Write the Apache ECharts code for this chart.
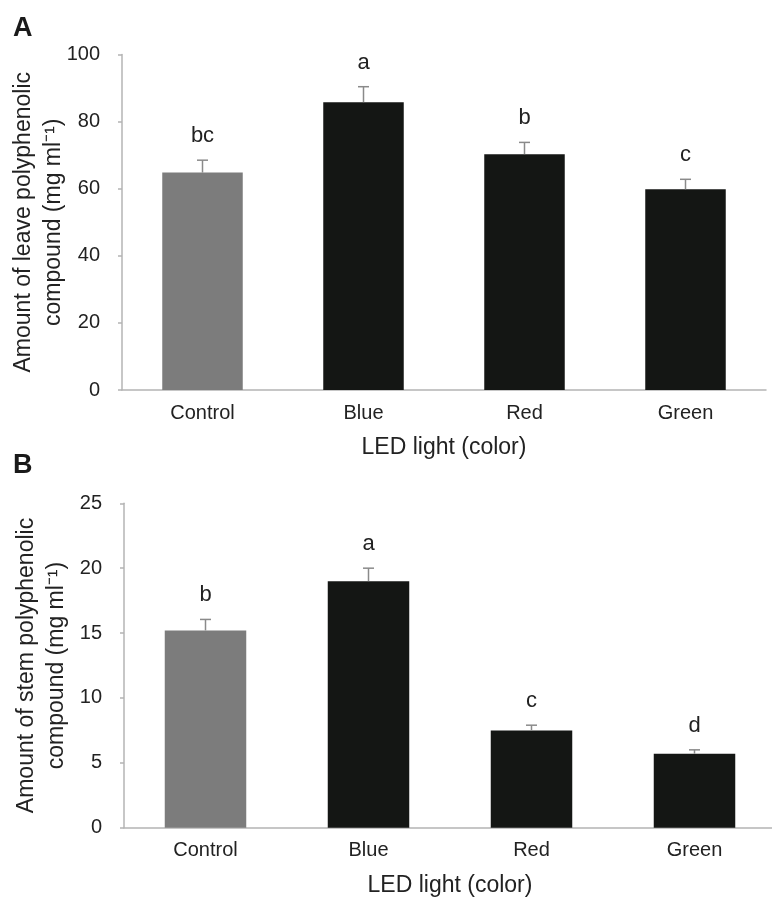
<!DOCTYPE html>
<html>
<head>
<meta charset="utf-8">
<script src="https://cdn.jsdelivr.net/npm/echarts@6/dist/echarts.min.js"></script>
<style>
html,body{margin:0;padding:0;background:#fff;}
#c{width:772px;height:898px;}
</style>
</head>
<body>
<div id="c"></div>
<script>
const categories = ['Control', 'Blue', 'Red', 'Green'];
const leafMean = [64.8, 85.8, 70.3, 59.8];
const leafSE = [3.7, 4.6, 3.5, 3.0];
const leafLetters = ['bc', 'a', 'b', 'c'];
const stemMean = [15.2, 19.0, 7.5, 5.7];
const stemSE = [0.85, 1.0, 0.4, 0.3];
const stemLetters = ['b', 'a', 'c', 'd'];
const barColors = ['#7c7c7c', '#141614', '#141614', '#141614'];
const leafTicks = {min: 0, max: 100, interval: 20};
const stemTicks = {min: 0, max: 25, interval: 5};

const FONT = '"Liberation Sans", Arial, Helvetica, sans-serif';
const TXT = '#222';
const AXIS = '#b4b4b4';

function errRender(letters) {
  return function (params, api) {
    const i = api.value(0);
    const m = api.value(1);
    const e = api.value(2);
    const b = api.coord([i, m]);
    const t = api.coord([i, m + e]);
    const hw = 5.5;
    return {
      type: 'group',
      children: [
        {type: 'line', shape: {x1: b[0], y1: b[1], x2: t[0], y2: t[1]}, style: {stroke: '#8a8a8a', lineWidth: 1.5}},
        {type: 'line', shape: {x1: t[0] - hw, y1: t[1], x2: t[0] + hw, y2: t[1]}, style: {stroke: '#8a8a8a', lineWidth: 1.5}},
        {type: 'text', x: t[0], y: t[1] - 13, style: {text: letters[params.dataIndex], align: 'center', verticalAlign: 'bottom', fontSize: 22, fill: TXT, fontFamily: FONT}}
      ]
    };
  };
}

function xAxisDef(idx) {
  return {
    type: 'category', gridIndex: idx, data: categories,
    axisLine: {lineStyle: {color: AXIS, width: 1.5}},
    axisTick: {show: false},
    axisLabel: {fontSize: 20, color: TXT, fontFamily: FONT, margin: 13},
    name: 'LED light (color)', nameLocation: 'middle', nameGap: 46,
    nameTextStyle: {fontSize: 23, color: TXT, fontFamily: FONT}
  };
}
function yAxisDef(idx, ticks, name, gap) {
  return {
    type: 'value', gridIndex: idx, min: ticks.min, max: ticks.max, interval: ticks.interval,
    axisLine: {show: true, lineStyle: {color: AXIS, width: 1.5}},
    axisTick: {show: true, length: 4, lineStyle: {color: AXIS, width: 1.5}},
    splitLine: {show: false},
    axisLabel: {fontSize: 20, color: TXT, fontFamily: FONT, margin: 22},
    name: name, nameLocation: 'middle', nameGap: gap, nameRotate: 90, nameMoveOverlap: false,
    nameTextStyle: {fontSize: 23, color: TXT, fontFamily: FONT, lineHeight: 30, align: 'center'}
  };
}

const chart = echarts.init(document.getElementById('c'), null, {renderer: 'canvas'});
chart.setOption({
  backgroundColor: '#fff',
  animation: false,
  grid: [
    {left: 122, right: 6, top: 54.5, height: 335.5, containLabel: false, outerBoundsMode: 'none'},
    {left: 124, right: -4, top: 503.3, height: 324.4, containLabel: false, outerBoundsMode: 'none'}
  ],
  xAxis: [xAxisDef(0), xAxisDef(1)],
  yAxis: [
    yAxisDef(0, leafTicks, 'Amount of leave polyphenolic\ncompound (mg ml\u207B\u00B9)', 53),
    yAxisDef(1, stemTicks, 'Amount of stem polyphenolic\ncompound (mg ml\u207B\u00B9)', 52)
  ],
  graphic: [
    {type: 'text', left: 13, top: 15, style: {text: 'A', fontSize: 27, fontWeight: 'bold', fill: '#1a1a1a', fontFamily: FONT}},
    {type: 'text', left: 13, top: 452, style: {text: 'B', fontSize: 27, fontWeight: 'bold', fill: '#1a1a1a', fontFamily: FONT}}
  ],
  series: [
    {type: 'bar', xAxisIndex: 0, yAxisIndex: 0, barWidth: '50%',
     data: leafMean.map((v, i) => ({value: v, itemStyle: {color: barColors[i]}}))},
    {type: 'custom', xAxisIndex: 0, yAxisIndex: 0, z: 5, renderItem: errRender(leafLetters),
     encode: {x: 0, y: 1},
     data: leafMean.map((v, i) => [i, v, leafSE[i]])},
    {type: 'bar', xAxisIndex: 1, yAxisIndex: 1, barWidth: '50%',
     data: stemMean.map((v, i) => ({value: v, itemStyle: {color: barColors[i]}}))},
    {type: 'custom', xAxisIndex: 1, yAxisIndex: 1, z: 5, renderItem: errRender(stemLetters),
     encode: {x: 0, y: 1},
     data: stemMean.map((v, i) => [i, v, stemSE[i]])}
  ]
});
</script>
</body>
</html>
